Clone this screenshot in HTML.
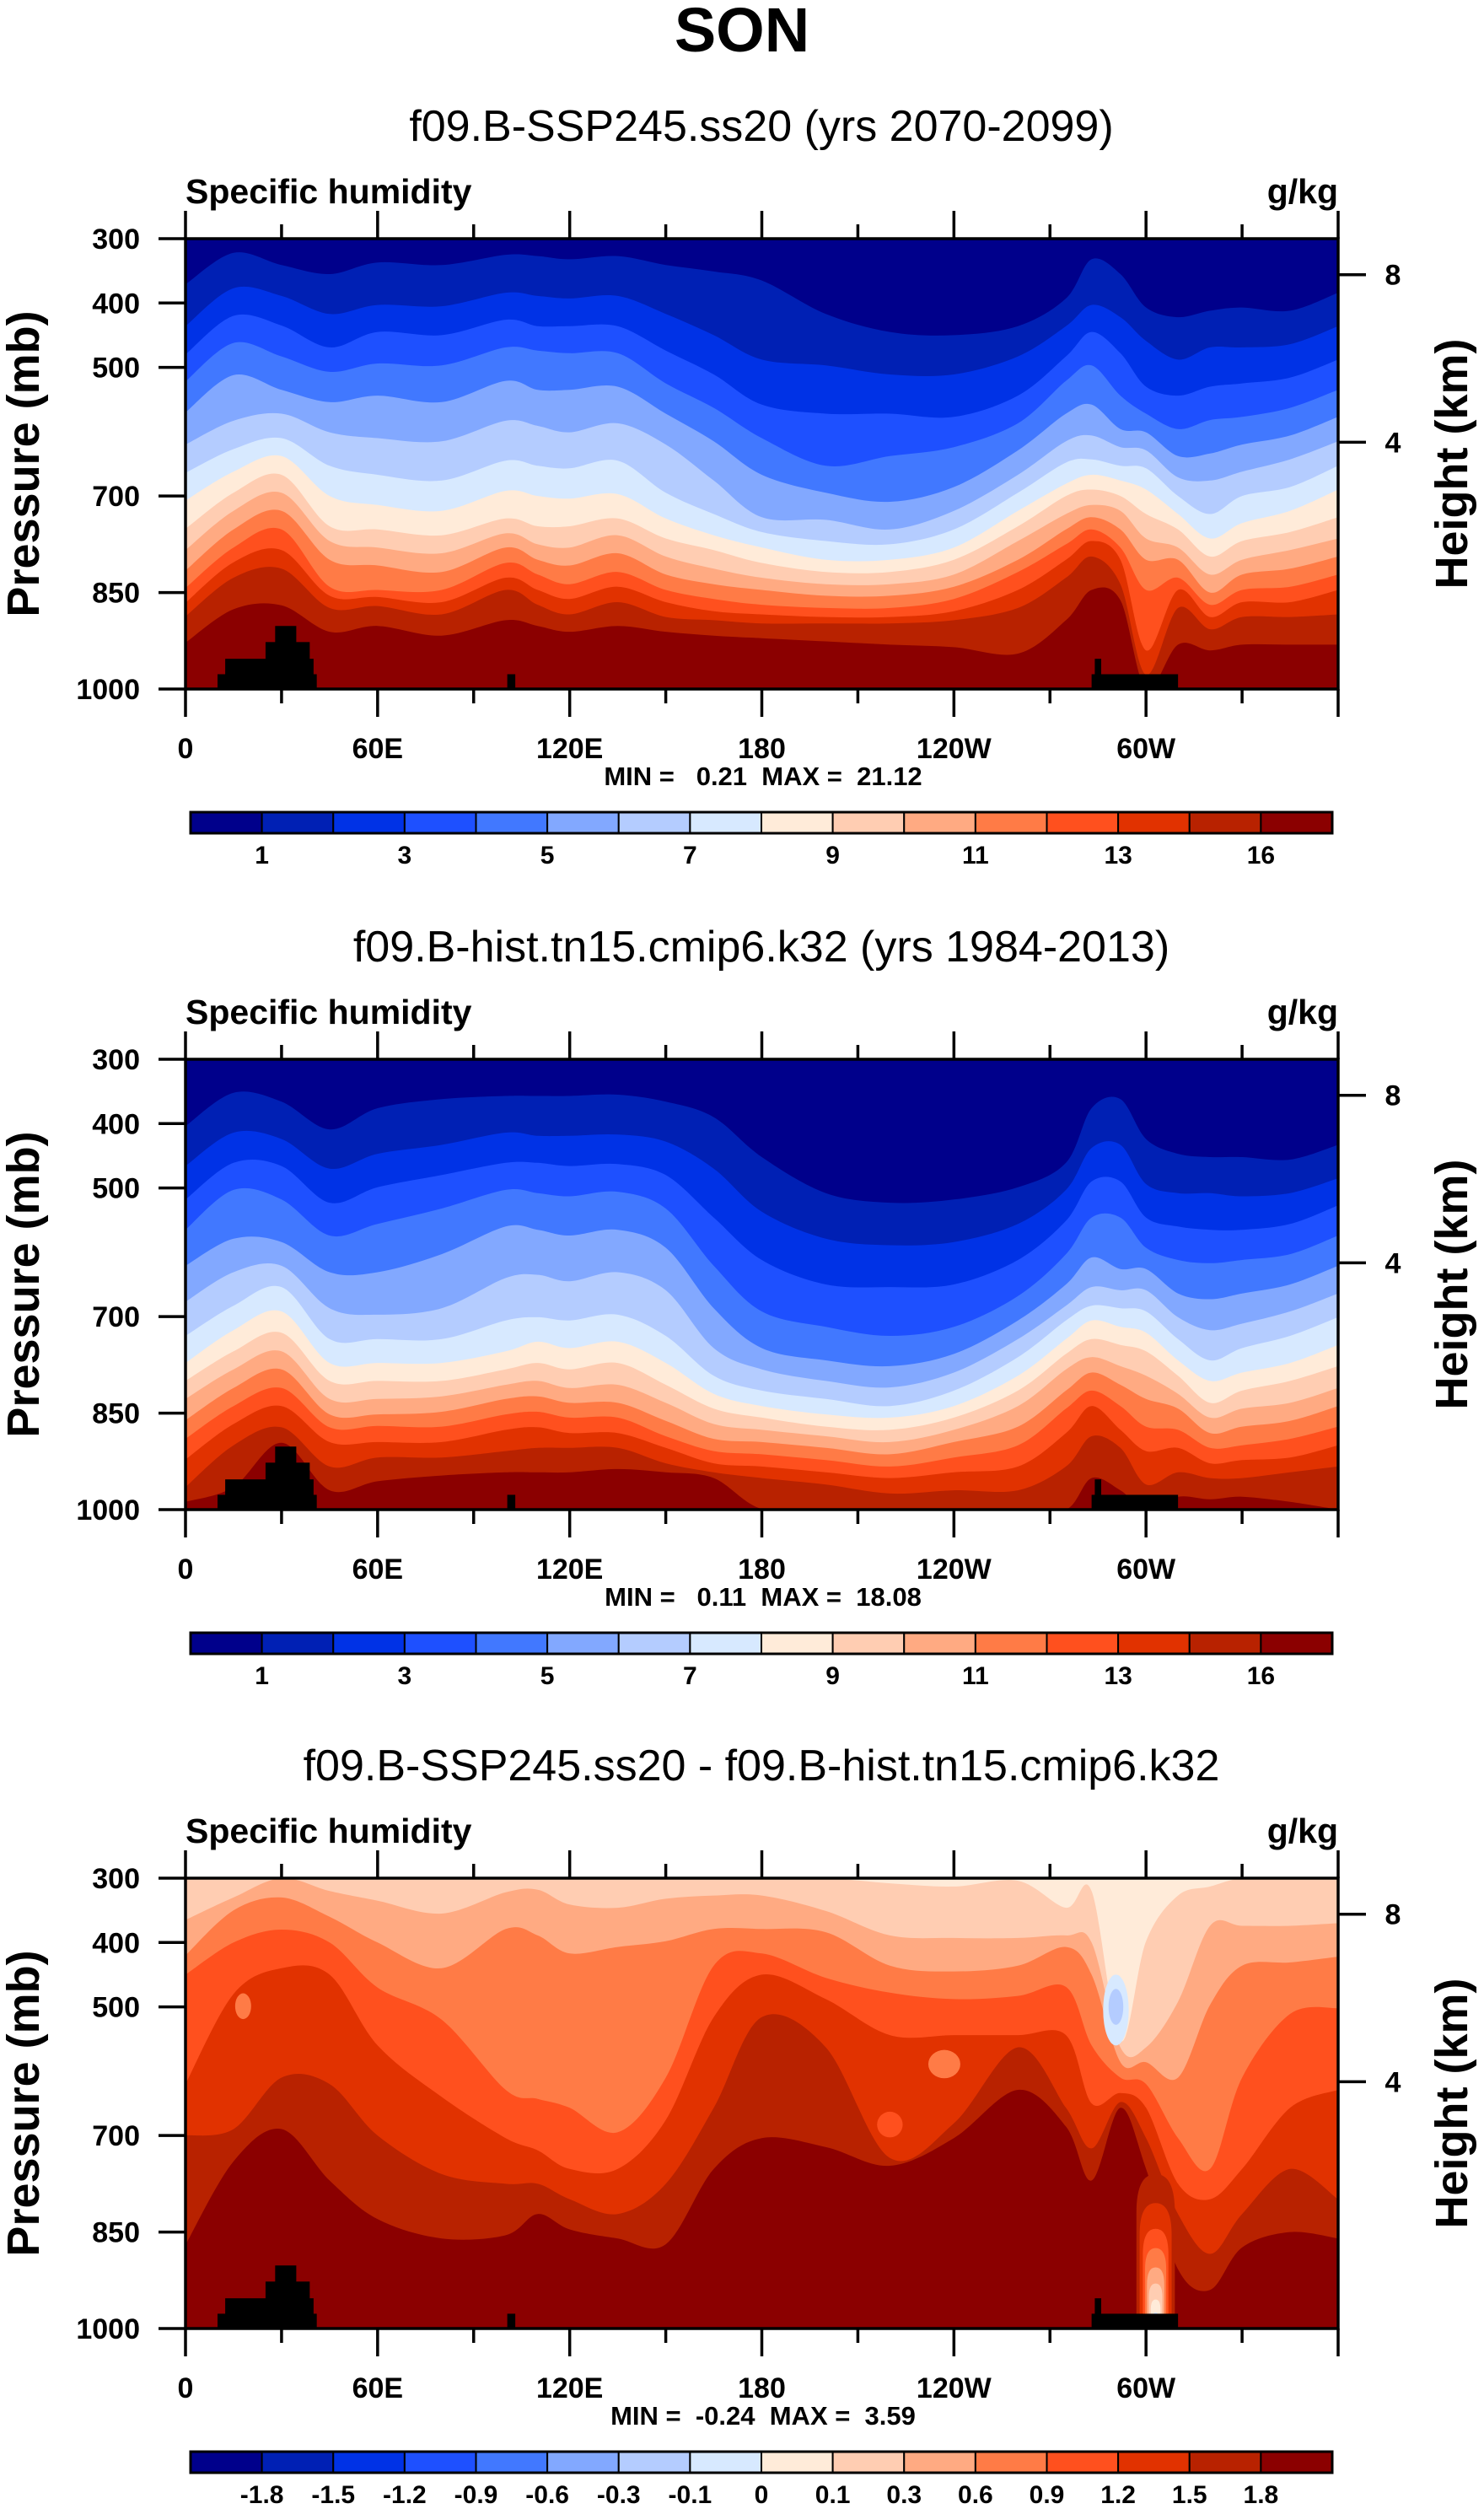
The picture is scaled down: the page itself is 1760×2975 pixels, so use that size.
<!DOCTYPE html>
<html><head><meta charset="utf-8"><title>SON Specific humidity</title>
<style>
html,body{margin:0;padding:0;background:#fff;}
svg{display:block;}
text{font-family:"Liberation Sans",Arial,sans-serif;fill:#000;}
.b{font-weight:bold;}
</style></head>
<body>
<svg id="chart" xmlns="http://www.w3.org/2000/svg" width="1760" height="2975" viewBox="0 0 1760 2975">
<rect x="0" y="0" width="1760" height="2975" fill="#fff"/>
<text class="b" x="880" y="61" font-size="74" text-anchor="middle">SON</text>

<g>
<text x="903" y="167" font-size="52" text-anchor="middle">f09.B-SSP245.ss20 (yrs 2070-2099)</text>
<text class="b" x="220" y="241" font-size="41">Specific humidity</text>
<text class="b" x="1587" y="241" font-size="41" text-anchor="end">g/kg</text>
<text class="b" x="0" y="0" font-size="54" text-anchor="middle" dominant-baseline="central" transform="translate(28,550) rotate(-90)">Pressure (mb)</text>
<text class="b" x="0" y="0" font-size="54" text-anchor="middle" dominant-baseline="central" transform="translate(1722,550) rotate(-90)">Height (km)</text>
<text class="b" x="905" y="931" font-size="31" text-anchor="middle" xml:space="preserve">MIN =   0.21  MAX =  21.12</text>
</g>

<g>
<text x="903" y="1140" font-size="52" text-anchor="middle">f09.B-hist.tn15.cmip6.k32 (yrs 1984-2013)</text>
<text class="b" x="220" y="1214" font-size="41">Specific humidity</text>
<text class="b" x="1587" y="1214" font-size="41" text-anchor="end">g/kg</text>
<text class="b" x="0" y="0" font-size="54" text-anchor="middle" dominant-baseline="central" transform="translate(28,1523) rotate(-90)">Pressure (mb)</text>
<text class="b" x="0" y="0" font-size="54" text-anchor="middle" dominant-baseline="central" transform="translate(1722,1523) rotate(-90)">Height (km)</text>
<text class="b" x="905" y="1904" font-size="31" text-anchor="middle" xml:space="preserve">MIN =   0.11  MAX =  18.08</text>
</g>

<g>
<text x="903" y="2111" font-size="52" text-anchor="middle">f09.B-SSP245.ss20 - f09.B-hist.tn15.cmip6.k32</text>
<text class="b" x="220" y="2185" font-size="41">Specific humidity</text>
<text class="b" x="1587" y="2185" font-size="41" text-anchor="end">g/kg</text>
<text class="b" x="0" y="0" font-size="54" text-anchor="middle" dominant-baseline="central" transform="translate(28,2494) rotate(-90)">Pressure (mb)</text>
<text class="b" x="0" y="0" font-size="54" text-anchor="middle" dominant-baseline="central" transform="translate(1722,2494) rotate(-90)">Height (km)</text>
<text class="b" x="905" y="2875" font-size="31" text-anchor="middle" xml:space="preserve">MIN =  -0.24  MAX =  3.59</text>
</g>
</svg>

<script>
// ---------- data ----------
const lons = [0,15,30,45,60,80,100,110,120,135,150,165,180,200,220,240,260,275,283,292,300,310,320,330,345,360];
const palette = ["#00008b","#0020b4","#0032e6","#1e50ff","#4178ff","#82a8ff","#b4ccff","#d7e9ff","#ffebd9","#ffcdb2","#ffaa82","#ff7b46","#ff501e","#e13200","#b82200","#8b0000"];
const absLevels = [1,2,3,4,5,6,7,8,9,10,11,12,13,14,16];
const absTickLabels = ["1","3","5","7","9","11","13","16"];
const absTickIdx = [0,2,4,6,8,10,12,14];
const diffLevels = [-1.8,-1.5,-1.2,-0.9,-0.6,-0.3,-0.1,0,0.1,0.3,0.6,0.9,1.2,1.5,1.8];
const diffTickLabels = ["-1.8","-1.5","-1.2","-0.9","-0.6","-0.3","-0.1","0","0.1","0.3","0.6","0.9","1.2","1.5","1.8"];
const diffTickIdx = [0,1,2,3,4,5,6,7,8,9,10,11,12,13,14];
const pressTicks = [300,400,500,700,850,1000];
const heightTicks = [8,4];
const lonTicks = [0,60,120,180,240,300];
const lonTickLabels = ["0","60E","120E","180","120W","60W"];
// pressure (hPa) of each contour boundary (1..15 g/kg levels), one row per longitude
const sspBounds = [
[371,436,480,522,570,620,664,707,751,784,816,843,866,887,928],
[322,377,420,462,512,583,627,662,695,723,752,780,803,827,876],
[341,389,435,483,535,572,610,638,667,695,723,752,784,813,870],
[355,417,469,507,554,601,653,700,747,770,799,841,855,874,911],
[337,403,445,494,544,610,667,714,752,780,808,846,857,871,902],
[341,405,450,497,554,615,676,723,761,789,818,846,865,884,917],
[325,384,426,469,521,583,645,692,735,758,780,804,827,846,893],
[327,389,436,474,535,591,653,700,747,775,799,822,846,869,902],
[332,393,436,478,535,601,657,704,747,780,808,837,860,884,911],
[327,389,436,478,530,587,645,697,735,761,789,818,841,865,902],
[341,417,474,525,572,620,695,735,766,794,822,846,865,888,911],
[351,450,511,563,615,676,728,761,784,813,837,860,879,893,917],
[365,488,558,610,667,733,756,780,804,827,846,869,884,898,921],
[417,497,572,653,695,737,770,799,818,837,855,874,888,898,926],
[445,511,572,638,709,752,775,799,818,837,855,874,888,898,931],
[450,511,577,624,686,723,752,780,799,822,841,860,879,893,935],
[436,483,544,587,629,667,695,723,747,770,799,818,846,874,945],
[393,436,483,521,572,615,648,681,700,728,752,775,799,827,893],
[332,403,445,497,558,606,643,667,690,714,733,752,770,794,846],
[355,422,478,544,596,624,653,676,700,723,752,780,799,837,862],
[407,459,530,572,601,629,657,690,728,766,799,846,940,978,1000],
[422,488,544,596,638,671,700,728,752,780,799,827,846,874,931],
[412,469,530,582,634,676,728,766,794,822,850,869,888,907,940],
[407,469,525,577,620,662,700,742,770,799,822,846,865,888,931],
[412,464,516,563,606,643,686,723,756,784,813,841,865,888,931],
[384,436,488,535,577,615,653,690,733,766,794,822,846,884,931]];
const histBounds = [
[404,466,518,565,621,677,730,772,800,828,861,890,922,965,988],
[352,414,461,503,579,631,683,721,754,782,811,839,867,900,965],
[366,424,466,518,584,621,654,692,725,754,782,811,839,872,896],
[409,470,523,574,631,687,735,772,800,828,852,872,895,933,970],
[376,447,499,556,631,697,735,772,800,828,852,870,895,919,956],
[362,433,480,532,603,687,735,772,800,824,848,871,895,919,947],
[357,414,461,503,560,640,706,754,782,806,828,852,876,909,942],
[357,419,461,508,565,635,701,739,772,800,824,848,872,904,942],
[357,419,466,513,574,645,706,749,782,811,834,857,881,904,942],
[355,417,463,506,565,631,697,739,772,806,834,857,881,904,937],
[366,428,480,532,593,659,730,772,806,834,862,886,904,928,942],
[390,470,546,621,687,749,792,820,843,867,890,909,928,942,951],
[452,537,612,692,749,782,815,839,857,876,895,914,933,951,999],
[508,579,650,716,768,800,828,852,871,886,904,923,942,961,1000],
[523,589,654,730,777,810,839,857,876,895,914,933,951,975,1000],
[518,584,650,716,758,787,815,839,857,876,895,919,942,970,1000],
[499,556,612,668,706,735,763,792,815,839,871,900,933,970,1000],
[461,503,551,603,650,683,706,735,758,782,815,843,881,933,1000],
[376,438,490,546,608,654,683,706,735,763,787,815,839,886,951],
[362,433,490,546,626,659,687,716,744,777,806,839,876,904,970],
[424,494,546,593,626,659,692,725,754,792,828,871,909,961,1000],
[447,508,560,612,664,701,735,768,792,820,843,876,904,942,980],
[452,508,565,617,673,721,768,800,834,857,881,904,928,951,984],
[452,513,565,612,664,711,749,787,815,843,871,900,923,951,980],
[456,508,556,603,650,692,730,772,800,834,862,890,919,942,988],
[433,485,527,574,621,664,701,744,777,811,839,871,900,933,1000]];
// difference field: pressure of 0.1,0.3,0.6,0.9,1.2,1.5,1.8 boundaries
const diffBounds = [
[300,365,420,450,620,700,870],
[300,330,350,400,480,690,740],
[300,300,330,380,440,610,690],
[300,320,360,400,450,620,770],
[300,335,400,470,560,700,830],
[300,355,440,520,640,760,860],
[300,322,379,629,704,775,855],
[300,318,389,643,723,775,822],
[300,341,417,657,752,799,846],
[300,346,407,695,752,822,860],
[300,332,398,610,676,775,869],
[300,327,379,436,516,657,752],
[300,327,379,417,450,516,704],
[300,351,384,455,488,563,718],
[308,389,436,478,544,735,747],
[313,393,445,488,544,681,704],
[304,393,436,483,544,563,629],
[346,389,407,469,544,657,686],
[320,400,450,560,650,720,770],
[553,563,586,610,634,648,657],
[398,563,586,620,657,704,752],
[327,492,610,704,775,822,908],
[313,374,497,752,799,884,940],
[300,374,436,610,752,822,874],
[300,374,431,511,657,752,850],
[300,370,422,502,629,799,860]];
// local features of difference field: [lon, halfWidthDeg, pressure(center/top), halfHeight, colorIndex, shape]
const diffBlobs = [
[18,2.5,499,20,11,"ellipse"],
[237,5,589,22,11,"ellipse"],
[220,4,683,20,12,"ellipse"],
[290.6,4,505,55,7,"ellipse"],
[290.6,2.3,500,28,6,"ellipse"],
[303,6,760,0,14,"column"],
[303,5,805,0,13,"column"],
[303,4,845,0,12,"column"],
[303,3.3,875,0,11,"column"],
[303,2.7,905,0,10,"column"],
[303,2.1,930,0,9,"column"],
[303,1.5,955,0,8,"column"],
[303,0.9,975,0,7,"column"]];
// topography: [lonStart, lonEnd, topPressure]
const topoSteps = [[10,41,977],[12.4,40,953],[25,38.8,927],[28,34.6,902],[100.5,103,977],[283,310,977],[284,286,953]];

// ---------- drawing ----------
const NS = "http://www.w3.org/2000/svg";
const svg = document.getElementById("chart");
function mk(tag, attrs, parent){
  const e = document.createElementNS(NS, tag);
  for (const k in attrs) e.setAttribute(k, attrs[k]);
  (parent || svg).appendChild(e);
  return e;
}
const X0 = 220, X1 = 1587, PT = 283, PH = 534;
function xLon(l){ return X0 + l/360*(X1-X0); }
function pToH(h){ return 1013.25*Math.pow(1-2.25577e-5*h*1000, 5.25588); }

function curvePath(pts){
  let d = "M" + pts[0][0].toFixed(1) + "," + pts[0][1].toFixed(1);
  for (let i=0;i<pts.length-1;i++){
    const p0 = pts[Math.max(0,i-1)], p1 = pts[i], p2 = pts[i+1], p3 = pts[Math.min(pts.length-1,i+2)];
    const c1x = p1[0] + (p2[0]-p0[0])/6, c1y = p1[1] + (p2[1]-p0[1])/6;
    const c2x = p2[0] - (p3[0]-p1[0])/6, c2y = p2[1] - (p3[1]-p1[1])/6;
    d += " C" + c1x.toFixed(1)+","+c1y.toFixed(1)+" "+c2x.toFixed(1)+","+c2y.toFixed(1)+" "+p2[0].toFixed(1)+","+p2[1].toFixed(1);
  }
  return d;
}

function drawPanel(pi, dy, bounds, bgIdx, firstIdx, blobs, levels, tickLabels, tickIdx){
  const yP = p => PT + dy + (p-300)/700*PH;
  const yB = PT + dy + PH;
  const g = mk("g", {});
  
  
  const clip = mk("clipPath", {id: "clip"+pi}, g);
  mk("rect", {x: X0, y: PT+dy, width: X1-X0, height: PH}, clip);
  const field = mk("g", {"clip-path": "url(#clip"+pi+")"}, g);
  
  
  const bg = mk("rect", {x: X0, y: PT+dy, width: X1-X0, height: PH, fill: palette[bgIdx]}, field);
  
  
  const nb = bounds[0].length;
  for (let k=0;k<nb;k++){
    const pts = lons.map((l,i)=>[xLon(l), yP(bounds[i][k])]);
    const d = curvePath(pts) + " L" + X1 + "," + (yB+5) + " L" + X0 + "," + (yB+5) + " Z";
    const path = mk("path", {d: d, fill: palette[firstIdx+k]}, field);
    
    
  }
  blobs.forEach((b)=>{
    const cx = xLon(b[0]), rx = b[1]/360*(X1-X0);
    let el;
    if (b[5] === "ellipse"){
      el = mk("ellipse", {cx: cx, cy: yP(b[2]), rx: rx, ry: b[3]/700*PH, fill: palette[b[4]]}, field);
    } else {
      const top = yP(b[2]);
      const d = "M"+(cx-rx)+","+(yB+5)+" L"+(cx-rx)+","+(top+rx*2)+" Q"+(cx-rx)+","+top+" "+cx+","+top+" Q"+(cx+rx)+","+top+" "+(cx+rx)+","+(top+rx*2)+" L"+(cx+rx)+","+(yB+5)+" Z";
      el = mk("path", {d: d, fill: palette[b[4]]}, field);
    }
    
    
  });
  topoSteps.forEach((t)=>{
    const r = mk("rect", {x: xLon(t[0]), y: yP(t[2]), width: xLon(t[1])-xLon(t[0]), height: yB-yP(t[2]), fill: "#000"}, field);
    
    
  });
  const frame = mk("rect", {x: X0, y: PT+dy, width: X1-X0, height: PH, fill: "none", stroke: "#000", "stroke-width": 3.5}, g);
  
  

  // left pressure axis
  pressTicks.forEach((p)=>{
    const y = yP(p);
    const tl = mk("line", {x1: 188, x2: X0, y1: y, y2: y, stroke: "#000", "stroke-width": 3.5}, g);
    
    
    const tx = mk("text", {x: 166, y: y+12, "font-size": 34, "font-weight": "bold", "text-anchor": "end"}, g);
    tx.textContent = String(p);
    
    
  });
  // right height axis
  heightTicks.forEach((h)=>{
    const y = yP(pToH(h));
    const tl = mk("line", {x1: X1, x2: 1620, y1: y, y2: y, stroke: "#000", "stroke-width": 3.5}, g);
    
    
    const tx = mk("text", {x: 1652, y: y+12, "font-size": 34, "font-weight": "bold", "text-anchor": "middle"}, g);
    tx.textContent = String(h);
    
    
  });
  // longitude ticks
  for (let l=0; l<=360; l+=30){
    const x = xLon(l), major = (l % 60 === 0), len = major ? 33 : 17;
    const tb = mk("line", {x1: x, x2: x, y1: yB, y2: yB+len, stroke: "#000", "stroke-width": 3.5}, g);
    
    
    const tt = mk("line", {x1: x, x2: x, y1: PT+dy, y2: PT+dy-len, stroke: "#000", "stroke-width": 3.5}, g);
    
    
  }
  lonTicks.forEach((l,i)=>{
    const tx = mk("text", {x: xLon(l), y: yB+82, "font-size": 34, "font-weight": "bold", "text-anchor": "middle"}, g);
    tx.textContent = lonTickLabels[i];
    
    
  });

  // colorbar
  const cb = mk("g", {}, svg);
  
  
  const cx0 = 226, cx1 = 1580, cy = 963+dy, ch = 25, n = levels.length+1, w = (cx1-cx0)/n;
  for (let i=0;i<n;i++){
    const r = mk("rect", {x: cx0+i*w, y: cy, width: w, height: ch, fill: palette[i], stroke: "#000", "stroke-width": 2}, cb);
    
    
  }
  const border = mk("rect", {x: cx0, y: cy, width: cx1-cx0, height: ch, fill: "none", stroke: "#000", "stroke-width": 3}, cb);
  
  
  tickIdx.forEach((bi,j)=>{
    const tx = mk("text", {x: cx0+(bi+1)*w, y: cy+61, "font-size": 30, "font-weight": "bold", "text-anchor": "middle"}, cb);
    tx.textContent = tickLabels[j];
    
    
  });
}

drawPanel(1, 0, sspBounds, 0, 1, [], absLevels, absTickLabels, absTickIdx);
drawPanel(2, 973, histBounds, 0, 1, [], absLevels, absTickLabels, absTickIdx);
drawPanel(3, 1944, diffBounds, 8, 9, diffBlobs, diffLevels, diffTickLabels, diffTickIdx);
</script>
</body></html>
